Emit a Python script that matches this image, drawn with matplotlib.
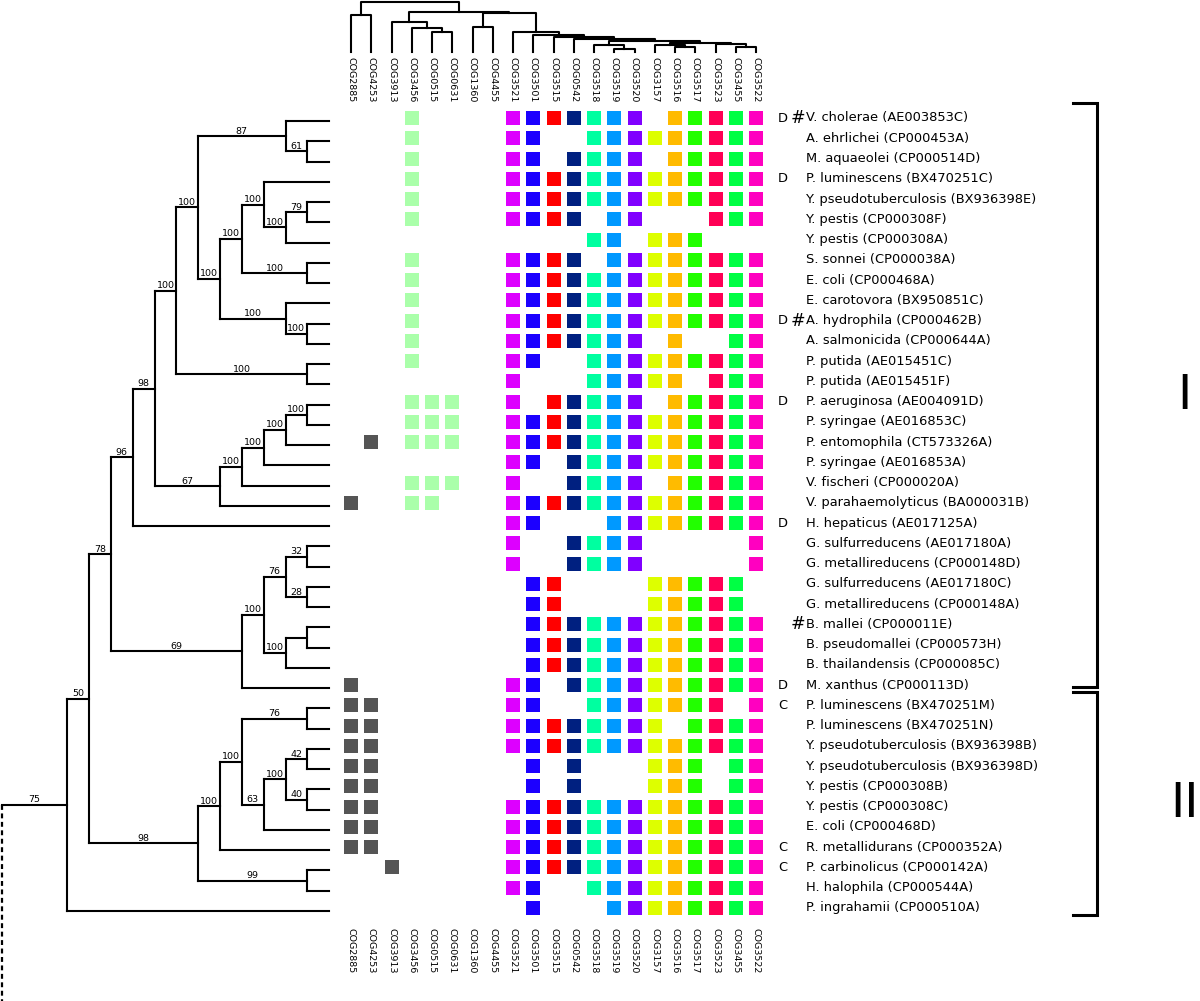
import re
import matplotlib
matplotlib.use("Agg")
import matplotlib.pyplot as plt
from matplotlib.transforms import blended_transform_factory

# ---------------- data ----------------
cogs = ["COG2885", "COG4253", "COG3913", "COG3456", "COG0515", "COG0631", "COG1360",
        "COG4455", "COG3521", "COG3501", "COG3515", "COG0542", "COG3518", "COG3519",
        "COG3520", "COG3157", "COG3516", "COG3517", "COG3523", "COG3455", "COG3522"]
cog_colors = ["#555555", "#555555", "#555555", "#aaffaa", "#aaffaa", "#aaffaa", "#aaffaa",
              "#aaffaa", "#dd00ff", "#1c00ff", "#ff0000", "#002080", "#00ffa0", "#0099ff",
              "#8000ff", "#ddff00", "#ffbb00", "#22ff00", "#ff0055", "#00ff44", "#ff00c0"]

species = [
    "V. cholerae (AE003853C)", "A. ehrlichei (CP000453A)", "M. aquaeolei (CP000514D)",
    "P. luminescens (BX470251C)", "Y. pseudotuberculosis (BX936398E)", "Y. pestis (CP000308F)",
    "Y. pestis (CP000308A)", "S. sonnei (CP000038A)", "E. coli (CP000468A)",
    "E. carotovora (BX950851C)", "A. hydrophila (CP000462B)", "A. salmonicida (CP000644A)",
    "P. putida (AE015451C)", "P. putida (AE015451F)", "P. aeruginosa (AE004091D)",
    "P. syringae (AE016853C)", "P. entomophila (CT573326A)", "P. syringae (AE016853A)",
    "V. fischeri (CP000020A)", "V. parahaemolyticus (BA000031B)", "H. hepaticus (AE017125A)",
    "G. sulfurreducens (AE017180A)", "G. metallireducens (CP000148D)",
    "G. sulfurreducens (AE017180C)", "G. metallireducens (CP000148A)", "B. mallei (CP000011E)",
    "B. pseudomallei (CP000573H)", "B. thailandensis (CP000085C)", "M. xanthus (CP000113D)",
    "P. luminescens (BX470251M)", "P. luminescens (BX470251N)",
    "Y. pseudotuberculosis (BX936398B)", "Y. pseudotuberculosis (BX936398D)",
    "Y. pestis (CP000308B)", "Y. pestis (CP000308C)", "E. coli (CP000468D)",
    "R. metallidurans (CP000352A)", "P. carbinolicus (CP000142A)", "H. halophila (CP000544A)",
    "P. ingrahamii (CP000510A)"]

# one string per species row, one character per COG column ('1' = present)
presence = [
    "...1....1111111.11111", "...1....11..111111111", "...1....11.1111.11111",
    "...1....1111111111111", "...1....1111111111111", "...1....1111.11...111",
    "............11.111...", "...1....1111.11111111", "...1....1111111111111",
    "...1....1111111111111", "...1....1111111111111", "...1....1111111.1..11",
    "...1....11..111111111", "........1...11111.111", "...111..1.11111.11111",
    "...111..1111111111111", ".1.111..1111111111111", "........11.1111111111",
    "...111..1..1111.11111", "1..11...1111111111111", "........11...11111111",
    "........1..1111.....1", "........1..1111.....1", ".........11....11111.",
    ".........11....11111.", ".........111111111111", ".........111111111111",
    ".........111111111111", "1.......11.1111111111", "11......11..1111111.1",
    "11......11111111.1111", "11......1111111111111", "11.......1.1...111.11",
    "11.......1.1...111.11", "11......1111111111111", "11......1111111111111",
    "11......1111111111111", "..1.....1111111111111", "........11..111111111",
    ".........1...11111111"]

flag_letters = {1: "D", 4: "D", 11: "D", 15: "D", 21: "D", 29: "D", 30: "C", 37: "C", 38: "C"}
hash_rows = [1, 11, 26]
groups = [("I", 1, 29), ("II", 30, 40)]

# species tree: leaves = row numbers, internal labels = bootstrap/level
t_n100_11 = "((4,((5,6)79/14,7)100/13)100/12,(8,9)100/14)100/11"
t_n100_10 = "(" + t_n100_11 + ",(10,(11,12)100/14)100/13)100/10"
t_n100_9 = "((1,(2,3)61/14)87/13," + t_n100_10 + ")100/9"
t_n100_8 = "(" + t_n100_9 + ",(13,14)100/14)100/8"
t_n67 = "(((((15,16)100/14,17)100/13,18)100/12,19)100/11,20)67/10"
t_n98b = "(" + t_n100_8 + "," + t_n67 + ")98/7"
t_n96 = "(" + t_n98b + ",21)96/6"
t_n69 = "((((22,23)32/14,(24,25)28/14)76/13,((26,27)-/14,28)100/13)100/12,29)69/11"
t_n78 = "(" + t_n96 + "," + t_n69 + ")78/5"
t_n98a = ("((((30,31)76/14,(((32,33)42/14,(34,35)40/14)100/13,36)63/12)100/11,37)100/10,"
          "(38,39)99/14)98/9")
t_n50 = "(" + t_n78 + "," + t_n98a + ")50/4"
species_tree = "(" + t_n50 + ",40)75/3"
leaf_level = 15

# COG clustering (left index, right index, height); new nodes numbered from 21
col_merges = [(16, 17, 5.3), (19, 20, 5.3), (13, 14, 3.0), (12, 23, 7.0), (15, 21, 7.0),
              (18, 22, 8.0), (25, 26, 9.0), (24, 27, 11.3), (11, 28, 13.0), (10, 29, 15.0),
              (9, 30, 17.0), (8, 31, 20.0), (4, 5, 19.7), (3, 33, 23.7), (2, 34, 30.3),
              (6, 7, 25.3), (36, 32, 38.7), (35, 37, 39.7), (0, 1, 37.0), (39, 38, 50.3)]

# ---------------- layout ----------------
W, H = 1200, 1001
fig = plt.figure(figsize=(12, 10.01), dpi=100)
col_sp = 20.25
row_sp = (908 - 118) / 39.0
ncol, nrow = len(cogs), len(species)

def fx(px):
    return px / W

def fy(py):
    return 1 - py / H

mat_left = 351 - col_sp / 2
mat_top = 118 - row_sp / 2
ax = fig.add_axes([fx(mat_left), fy(mat_top + nrow * row_sp), ncol * col_sp / W, nrow * row_sp / H])
ax.set_xlim(-0.5, ncol - 0.5)
ax.set_ylim(nrow - 0.5, -0.5)
ax.axis("off")

# matrix squares
for j, c in enumerate(cogs):
    rows = [i for i in range(nrow) if presence[i][j] == "1"]
    ax.scatter([j] * len(rows), rows, s=104, marker="s", color=cog_colors[j], linewidths=0)

# column labels (top and bottom)
bt_col = blended_transform_factory(ax.transData, fig.transFigure)
for j, c in enumerate(cogs):
    ax.text(j, fy(57), c, rotation=270, ha="center", va="top", fontsize=6.8,
            transform=bt_col, clip_on=False)
    ax.text(j, fy(928), c, rotation=270, ha="center", va="top", fontsize=6.8,
            transform=bt_col, clip_on=False)

# species labels and markers
bt_row = blended_transform_factory(fig.transFigure, ax.transData)
for i, name in enumerate(species):
    ax.text(fx(806), i, name, ha="left", va="center", fontsize=9.4, transform=bt_row,
            clip_on=False)
for r, letter in flag_letters.items():
    ax.text(fx(783), r - 1, letter, ha="center", va="center", fontsize=9.4,
            transform=bt_row, clip_on=False)
for r in hash_rows:
    ax.text(fx(798), r - 1, "#", ha="center", va="center", fontsize=12.5,
            transform=bt_row, clip_on=False)

# group brackets
for gi, (gname, r0, r1) in enumerate(groups):
    if gi == 0:
        top, bot = r0 - 1 - 0.72, r1 - 1 + 0.1
    else:
        top, bot = r0 - 1 - 0.65, r1 - 1 + 0.35
    ax.plot([fx(1073), fx(1097), fx(1097), fx(1073)], [top, top, bot, bot], color="black",
            lw=2.2, transform=bt_row, clip_on=False, solid_joinstyle="miter")
    ax.text(fx(1199), (top + bot) / 2, gname, ha="right", va="center", fontsize=34.5,
            transform=bt_row, clip_on=False) if len(gname) > 1 else \
        ax.text(fx(1177), (top + bot) / 2, gname, ha="left", va="center", fontsize=34.5,
                transform=bt_row, clip_on=False)

# ---------------- species tree ----------------
tree_off = 3
lvl0_px, lvl_px = 1.85, 21.82
axt = fig.add_axes([fx(lvl0_px), fy(mat_top + tree_off + nrow * row_sp),
                    leaf_level * lvl_px / W, nrow * row_sp / H])
axt.set_xlim(0, leaf_level)
axt.set_ylim(nrow - 0.5, -0.5)
axt.axis("off")


def parse(s, i=0):
    if s[i] == "(":
        children = []
        i += 1
        while True:
            ch, i = parse(s, i)
            children.append(ch)
            if s[i] == ",":
                i += 1
            else:
                i += 1
                break
        m = re.match(r"([\-\d]+)/(\d+)", s[i:])
        bs = None if m.group(1) == "-" else m.group(1)
        return {"children": children, "bs": bs, "lvl": int(m.group(2))}, i + m.end()
    m = re.match(r"\d+", s[i:])
    return {"leaf": int(m.group()) - 1, "lvl": leaf_level}, i + m.end()


tree, _ = parse(species_tree)
LW = 1.5


def draw(node, parent_lvl):
    if "leaf" in node:
        y = node["leaf"]
    else:
        ys = [draw(ch, node["lvl"]) for ch in node["children"]]
        y = sum(ys) / len(ys)
        axt.plot([node["lvl"], node["lvl"]], [min(ys), max(ys)], color="black", lw=LW,
                 solid_capstyle="projecting", clip_on=False)
    axt.plot([parent_lvl, node["lvl"]], [y, y], color="black", lw=LW,
             solid_capstyle="projecting", clip_on=False)
    if node.get("bs"):
        axt.annotate(node["bs"], ((parent_lvl + node["lvl"]) / 2, y), xytext=(0, 0.3),
                     textcoords="offset points", ha="center", va="bottom", fontsize=6.8)
    node["y"] = y
    return y


root_y = draw(tree, 0)
axt.plot([0, 0], [root_y, nrow + 10], color="black", lw=1.6, ls=(0, (2.2, 1.6)),
         clip_on=False)

# ---------------- COG dendrogram ----------------
axd = fig.add_axes([fx(mat_left), fy(52), ncol * col_sp / W, 52 / H])
axd.set_xlim(-0.5, ncol - 0.5)
axd.set_ylim(0, 52)
axd.axis("off")
pos = {j: (float(j), 0.0) for j in range(ncol)}
for k, (a, b, h) in enumerate(col_merges):
    xa, ha = pos[a]
    xb, hb = pos[b]
    axd.plot([xa, xa, xb, xb], [ha, h, h, hb], color="black", lw=1.5, clip_on=False)
    pos[ncol + k] = ((xa + xb) / 2, h)

fig.savefig("out.png", dpi=100)
